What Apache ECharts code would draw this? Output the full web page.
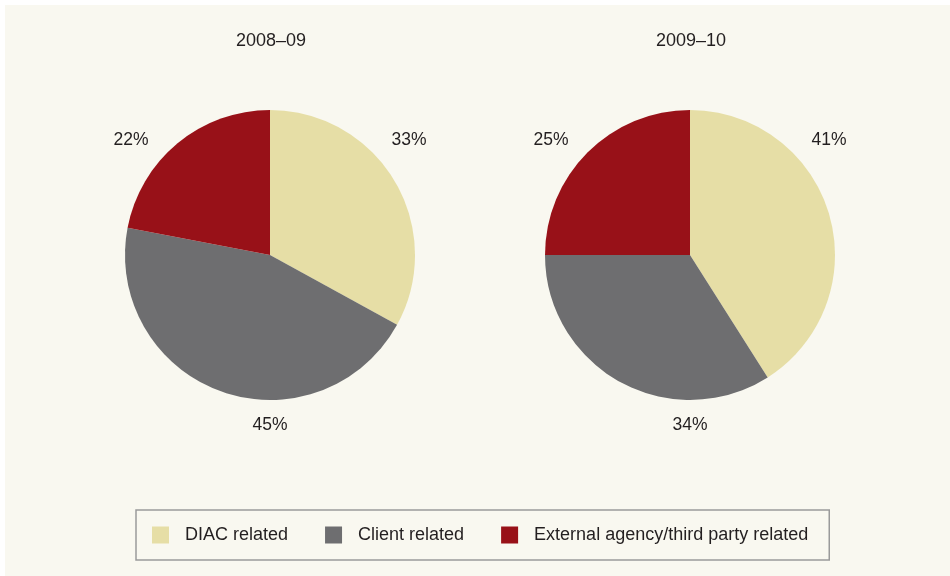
<!DOCTYPE html>
<html>
<head>
<meta charset="utf-8">
<script src="https://cdn.jsdelivr.net/npm/echarts@6/dist/echarts.min.js"></script>
<style>
  html, body { margin: 0; padding: 0; background: #ffffff; }
  #chart { position: absolute; left: 5px; top: 5px; width: 945px; height: 571px; }
</style>
</head>
<body>
<div id="chart"></div>
<script>
// Complaint sources by year (percent of total)
const categories = ['DIAC related', 'Client related', 'External agency/third party related'];
const years = ['2008–09', '2009–10'];
const values2008 = [33, 45, 22];
const values2009 = [41, 34, 25];

const colors = ['#e6dea6', '#6e6e70', '#981118'];
const FONT = 'Liberation Sans, Arial, Helvetica, sans-serif';

// Pie geometry (pixels, inside the chart container)
const radius = 145;
const centers = [[265, 250], [685, 250]];
// Label anchors relative to each pie centre, one per slice
const labelOffsets = [[139, -115], [0, 170], [-139, -115]];

function makePie(name, values, center) {
  return {
    type: 'pie',
    name: name,
    center: center,
    radius: radius,
    startAngle: 90,
    clockwise: true,
    animation: false,
    silent: true,
    itemStyle: { borderWidth: 0 },
    label: {
      show: true,
      position: 'outside',
      formatter: '{c}%',
      color: '#231f20',
      fontFamily: FONT,
      fontSize: 17.5
    },
    labelLine: { show: false },
    labelLayout: function (p) {
      const off = labelOffsets[p.dataIndex];
      return {
        x: center[0] + off[0],
        y: center[1] + off[1],
        align: 'center',
        verticalAlign: 'middle'
      };
    },
    data: categories.map((c, i) => ({ name: c, value: values[i] }))
  };
}

const chart = echarts.init(document.getElementById('chart'));
chart.setOption({
  backgroundColor: '#f9f8f0',
  color: colors,
  title: years.map((y, i) => ({
    text: y,
    left: centers[i][0] + 1,
    top: 27,
    padding: 0,
    textAlign: 'center',
    textStyle: { fontFamily: FONT, fontSize: 18, fontWeight: 'normal', color: '#231f20' }
  })),
  legend: {
    left: 131,
    top: 505,
    orient: 'horizontal',
    padding: [16, 21, 16, 16],
    itemWidth: 17,
    itemHeight: 17,
    itemGap: 37,
    icon: 'rect',
    borderColor: '#9a9a9a',
    borderWidth: 1.5,
    selectedMode: false,
    textStyle: { fontFamily: FONT, fontSize: 18, color: '#231f20', padding: [0, 0, 0, 11] },
    data: categories
  },
  series: [
    makePie(years[0], values2008, centers[0]),
    makePie(years[1], values2009, centers[1])
  ]
});
</script>
</body>
</html>
